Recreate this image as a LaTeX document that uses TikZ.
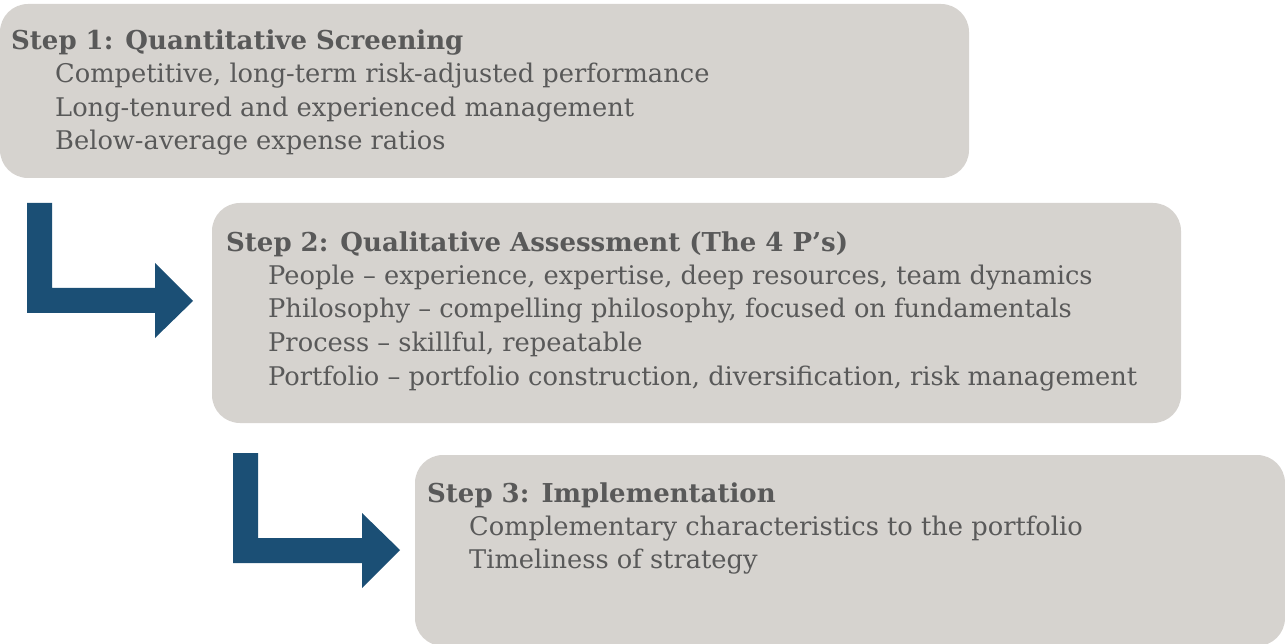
\documentclass[tikz,border=0pt]{standalone}
\usepackage{fontspec}
\setmainfont{DejaVu Serif}
\definecolor{boxgray}{HTML}{D6D3CF}
\definecolor{arrowblue}{HTML}{1B4F75}
\definecolor{txtgray}{HTML}{595959}
\begin{document}
\begin{tikzpicture}[x=1pt,y=-1pt,
  stepbox/.style={fill=boxgray, draw=none, rounded corners=28pt},
  bentarrow/.style={fill=arrowblue, draw=none},
  title/.style={anchor=base west, inner sep=0pt, text=txtgray, font=\fontsize{26}{30}\selectfont\bfseries},
  item/.style={anchor=base west, inner sep=0pt, text=txtgray, font=\fontsize{25.7}{30}\selectfont}]
\useasboundingbox (0,0) rectangle (1285,644);
% boxes
\path[stepbox] (0,4) rectangle (969,178);
\path[stepbox] (212,203) rectangle (1181,423);
\path[stepbox] (415,455) rectangle (1285,646);
% arrows
\path[bentarrow] (27,203) -- (52,203) -- (52,288) -- (155,288) -- (155,263) -- (193,301) -- (155,338) -- (155,313) -- (27,313) -- cycle;
\path[bentarrow] (233,453) -- (258,453) -- (258,538) -- (362,538) -- (362,513) -- (400,550) -- (362,588) -- (362,563) -- (233,563) -- cycle;
% step 1
\node[title] (t1) at (11,50) {Step 1: Quantitative Screening};
\node[item] (a1) at (55,83) {Competitive, long-term risk-adjusted performance};
\node[item] (a2) at (55,117) {Long-tenured and experienced management};
\node[item] (a3) at (55,150) {Below-average expense ratios};
% step 2
\node[title] (t2) at (226,252) {Step 2: Qualitative Assessment (The 4 P’s)};
\node[item] (b1) at (268,285) {People – experience, expertise, deep resources, team dynamics};
\node[item] (b2) at (268,318) {Philosophy – compelling philosophy, focused on fundamentals};
\node[item] (b3) at (268,352) {Process – skillful, repeatable};
\node[item] (b4) at (268,385) {Portfolio – portfolio construction, diversification, risk management};
% step 3
\node[title] (t3) at (427,502) {Step 3: Implementation};
\node[item] (c1) at (469,535) {Complementary characteristics to the portfolio};
\node[item] (c2) at (469,568) {Timeliness of strategy};
\end{tikzpicture}
\end{document}
